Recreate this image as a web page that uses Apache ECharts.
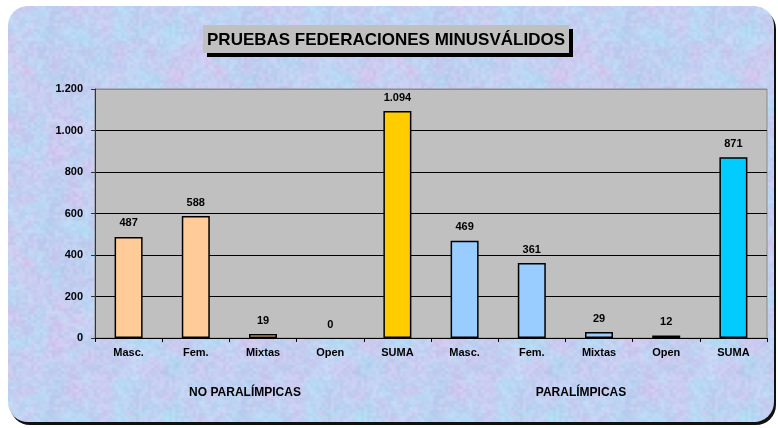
<!DOCTYPE html>
<html>
<head>
<meta charset="utf-8">
<script src="https://cdn.jsdelivr.net/npm/echarts@6/dist/echarts.min.js"></script>
<style>
  html, body { margin: 0; padding: 0; background: #fff; }
  #wrap { position: relative; width: 778px; height: 428px; overflow: hidden; }
  #panel { position: absolute; left: 8px; top: 6px; width: 766px; height: 416px;
           border-radius: 20px; box-shadow: 2px 3px 0 #111; background: #c4d2f0; }
  #main { position: absolute; left: 0; top: 0; width: 778px; height: 428px; }
</style>
</head>
<body>
<div id="wrap"><div id="panel"></div><div id="main"></div></div>
<script>
// data
const titleText = 'PRUEBAS FEDERACIONES MINUSVÁLIDOS';
const categories = ['Masc.', 'Fem.', 'Mixtas', 'Open', 'SUMA', 'Masc.', 'Fem.', 'Mixtas', 'Open', 'SUMA'];
const groups = ['NO PARALÍMPICAS', 'PARALÍMPICAS'];
const values = [487, 588, 19, 0, 1094, 469, 361, 29, 12, 871];
const barColors = ['#FFCC99', '#FFCC99', '#FFCC99', '#FFCC99', '#FFCC00',
                   '#99CCFF', '#99CCFF', '#99CCFF', '#999900', '#00CCFF'];
const yMin = 0, yMax = 1200, yStep = 200;

const FONT = "'Liberation Sans', Arial, sans-serif";

function fmt(v) {
  return String(v).replace(/\B(?=(\d{3})+(?!\d))/g, '.');
}

// mottled paper texture for the panel (deterministic value noise)
function texture() {
  const S = 192;
  const c = document.createElement('canvas');
  c.width = S; c.height = S;
  const ctx = c.getContext('2d');
  const img = ctx.createImageData(S, S);
  const h = (x, y, k, n) => {
    const t = Math.sin((((x % n) + n) % n) * 127.1 + (((y % n) + n) % n) * 311.7 + k * 74.7) * 43758.5453;
    return t - Math.floor(t);
  };
  const sm = t => t * t * (3 - 2 * t);
  const noise = (px, py, k, G) => {
    const n = S / G;
    const gx = px / G, gy = py / G;
    const x0 = Math.floor(gx), y0 = Math.floor(gy);
    const fx = sm(gx - x0), fy = sm(gy - y0);
    const a = h(x0, y0, k, n), b = h(x0 + 1, y0, k, n), cc = h(x0, y0 + 1, k, n), d = h(x0 + 1, y0 + 1, k, n);
    return (a * (1 - fx) + b * fx) * (1 - fy) + (cc * (1 - fx) + d * fx) * fy;
  };
  for (let y = 0; y < S; y++) {
    for (let x = 0; x < S; x++) {
      const p = noise(x, y, 1, 24) * 0.6 + noise(x, y, 4, 8) * 0.4;
      const q = noise(x, y, 2, 16) * 0.6 + noise(x, y, 5, 6) * 0.4;
      const g = noise(x, y, 3, 3) - 0.5;
      const i = (y * S + x) * 4;
      img.data[i]     = 194 + (p - 0.5) * 36 - (q - 0.5) * 14 + g * 14;
      img.data[i + 1] = 208 - (p - 0.5) * 14 + (q - 0.5) * 22 + g * 14;
      img.data[i + 2] = 241 + (q - 0.5) * 10 + g * 6;
      img.data[i + 3] = 255;
    }
  }
  ctx.putImageData(img, 0, 0);
  return c.toDataURL();
}
document.getElementById('panel').style.backgroundImage = 'url(' + texture() + ')';

const chart = echarts.init(document.getElementById('main'), null, { renderer: 'canvas' });

chart.setOption({
  animation: false,
  textStyle: { fontFamily: FONT },
  graphic: [
    { type: 'rect', shape: { x: 207, y: 29, width: 366, height: 28 }, style: { fill: '#000' }, z: 10 },
    { type: 'rect', shape: { x: 203, y: 25, width: 366, height: 28 }, style: { fill: '#C0C0C0' }, z: 11 },
    { type: 'text', x: 386, y: 40, z: 12,
      style: { text: titleText, fill: '#000', font: 'bold 17px ' + FONT,
               textAlign: 'center', textVerticalAlign: 'middle' } }
  ],
  grid: {
    left: 95, right: 11, top: 89, bottom: 90,
    show: true, backgroundColor: '#C0C0C0', borderColor: '#8a8a8a', borderWidth: 1
  },
  xAxis: [
    {
      type: 'category',
      data: categories,
      axisLine: { lineStyle: { color: '#000', width: 1 } },
      axisTick: { show: true, interval: 0, length: 4, lineStyle: { color: '#000' } },
      axisLabel: { interval: 0, margin: 9, color: '#000', fontSize: 11, fontWeight: 'bold', fontFamily: FONT }
    },
    {
      type: 'category',
      position: 'bottom',
      offset: 41,
      data: groups,
      axisLine: { show: false },
      axisTick: { show: false },
      axisLabel: { interval: 0, color: '#000', fontSize: 12, fontWeight: 'bold', fontFamily: FONT,
                   padding: [0, 36, 0, 0] }
    }
  ],
  yAxis: {
    type: 'value',
    min: yMin, max: yMax, interval: yStep,
    axisLine: { show: true, lineStyle: { color: '#333', width: 1 } },
    axisTick: { show: true, length: 4, lineStyle: { color: '#333' } },
    axisLabel: { margin: 12, color: '#000', fontSize: 11, fontWeight: 'bold', fontFamily: FONT,
                 formatter: fmt },
    splitLine: { show: true, lineStyle: { color: ['#000', '#000', '#000', '#000', '#000', '#000', '#8a8a8a'], width: 1 } }
  },
  series: [{
    type: 'bar',
    xAxisIndex: 0,
    barWidth: 28,
    data: values.map((v, i) => ({
      value: v,
      itemStyle: { color: barColors[i], borderWidth: v === 0 ? 0 : 1.5 }
    })),
    itemStyle: { borderColor: '#000' },
    label: {
      show: true, position: 'top', distance: 8,
      color: '#000', fontSize: 11, fontWeight: 'bold', fontFamily: FONT,
      formatter: p => fmt(p.value)
    }
  }]
});
</script>
</body>
</html>
